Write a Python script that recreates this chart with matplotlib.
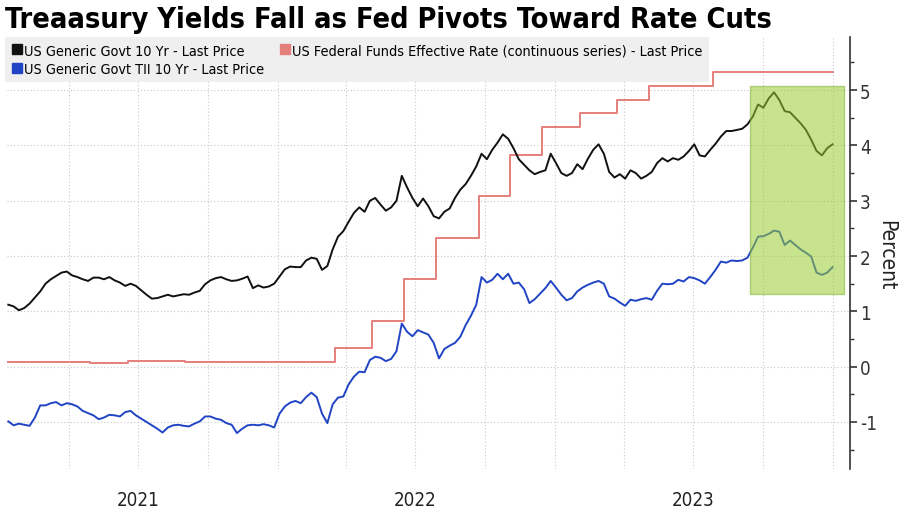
import numpy as np
import pandas as pd
import matplotlib
matplotlib.use("Agg")
import matplotlib.pyplot as plt
import matplotlib.dates as mdates
from matplotlib import font_manager
from matplotlib.font_manager import FontProperties
from matplotlib.lines import Line2D
from matplotlib.patches import Rectangle

plt.rcParams['axes.unicode_minus'] = False


def _weight(f):
    w = f.weight
    if isinstance(w, str):
        w = font_manager.weight_dict.get(w, 400)
    return w


def _is_narrow(f):
    return ('Narrow' in f.name or 'Condensed' in f.name
            or f.stretch in ('condensed', 'semi-condensed', 'extra-condensed'))


# look for narrow faces (regular-ish for body text, bold for the title)
narrow = [f for f in font_manager.fontManager.ttflist
          if _is_narrow(f) and f.style == 'normal']
body = sorted([f for f in narrow if 300 <= _weight(f) <= 500],
              key=lambda f: abs(_weight(f) - 400))
heavy = [f for f in narrow if _weight(f) >= 600]

if body:
    body_fp = FontProperties(fname=body[0].fname)
else:
    body_fp = FontProperties(family='DejaVu Sans', stretch='condensed')
if heavy:
    title_fp = FontProperties(fname=heavy[0].fname)
else:
    title_fp = FontProperties(family='DejaVu Sans', weight='bold')

# weekly observations (Mondays), Jan 11 2021 .. Jan 1 2024
dates = pd.date_range('2021-01-11', periods=156, freq='7D')

ust10 = [
    1.12, 1.09, 1.02, 1.06, 1.14, 1.25, 1.36, 1.50, 1.58, 1.64,
    1.70, 1.72, 1.65, 1.62, 1.58, 1.55, 1.61, 1.61, 1.58, 1.62,
    1.56, 1.52, 1.46, 1.50, 1.46, 1.38, 1.30, 1.23, 1.24, 1.27,
    1.30, 1.27, 1.29, 1.31, 1.30, 1.34, 1.37, 1.49, 1.56, 1.60,
    1.62, 1.58, 1.55, 1.56, 1.59, 1.63, 1.42, 1.47, 1.43, 1.45,
    1.50, 1.63, 1.76, 1.81, 1.80, 1.80, 1.92, 1.97, 1.95, 1.75,
    1.82, 2.12, 2.35, 2.45, 2.62, 2.78, 2.88, 2.80, 3.00, 3.05,
    2.93, 2.82, 2.88, 3.00, 3.45, 3.24, 3.05, 2.90, 3.04, 2.90,
    2.72, 2.68, 2.80, 2.86, 3.05, 3.20, 3.30, 3.45, 3.62, 3.85,
    3.75, 3.92, 4.05, 4.20, 4.12, 3.95, 3.75, 3.65, 3.55, 3.48,
    3.52, 3.55, 3.85, 3.68, 3.50, 3.45, 3.50, 3.66, 3.57, 3.76,
    3.92, 4.02, 3.85, 3.52, 3.42, 3.48, 3.40, 3.55, 3.50, 3.40,
    3.45, 3.52, 3.68, 3.77, 3.71, 3.77, 3.74, 3.80, 3.90, 4.02,
    3.82, 3.80, 3.92, 4.03, 4.16, 4.26, 4.26, 4.28, 4.30, 4.38,
    4.52, 4.74, 4.68, 4.85, 4.96, 4.82, 4.62, 4.60, 4.50, 4.40,
    4.28, 4.10, 3.90, 3.82, 3.95, 4.02,
]

tips10 = [
    -0.99, -1.06, -1.03, -1.05, -1.07, -0.92, -0.70, -0.70, -0.66, -0.64,
    -0.70, -0.66, -0.68, -0.72, -0.80, -0.84, -0.88, -0.95, -0.92, -0.87,
    -0.88, -0.90, -0.82, -0.80, -0.88, -0.94, -1.00, -1.06, -1.12, -1.19,
    -1.10, -1.06, -1.05, -1.07, -1.08, -1.03, -0.99, -0.90, -0.90, -0.94,
    -0.96, -1.02, -1.05, -1.20, -1.12, -1.06, -1.05, -1.06, -1.04, -1.06,
    -1.10, -0.85, -0.72, -0.65, -0.62, -0.66, -0.55, -0.47, -0.55, -0.85,
    -1.02, -0.68, -0.56, -0.54, -0.32, -0.18, -0.09, -0.10, 0.12, 0.18,
    0.16, 0.10, 0.14, 0.28, 0.78, 0.63, 0.55, 0.66, 0.62, 0.58,
    0.43, 0.15, 0.32, 0.38, 0.43, 0.54, 0.75, 0.92, 1.12, 1.62,
    1.52, 1.57, 1.68, 1.58, 1.68, 1.50, 1.52, 1.40, 1.15, 1.22,
    1.32, 1.42, 1.55, 1.43, 1.30, 1.20, 1.24, 1.36, 1.43, 1.48,
    1.52, 1.55, 1.50, 1.27, 1.23, 1.16, 1.10, 1.21, 1.19, 1.22,
    1.24, 1.21, 1.37, 1.50, 1.49, 1.50, 1.57, 1.54, 1.62, 1.60,
    1.56, 1.50, 1.62, 1.75, 1.90, 1.88, 1.92, 1.91, 1.92, 1.97,
    2.15, 2.35, 2.36, 2.40, 2.46, 2.44, 2.20, 2.28, 2.20, 2.12,
    2.06, 1.99, 1.70, 1.66, 1.70, 1.80,
]

ff_dates = pd.to_datetime([
    '2021-01-11', '2021-04-29', '2021-06-17', '2021-09-01', '2022-03-17',
    '2022-05-05', '2022-06-16', '2022-07-28', '2022-09-22', '2022-11-03',
    '2022-12-15', '2023-02-02', '2023-03-23', '2023-05-04', '2023-07-27',
    '2024-01-01',
])
ff_rate = [0.08, 0.06, 0.10, 0.08, 0.33, 0.83, 1.58, 2.33, 3.08, 3.83,
           4.33, 4.58, 4.83, 5.08, 5.33, 5.33]

labels = ['US Generic Govt 10 Yr - Last Price',
          'US Generic Govt TII 10 Yr - Last Price',
          'US Federal Funds Effective Rate (continuous series) - Last Price']
colors = ['#111111', '#2144c4', '#e57f7b']

quarters = pd.date_range('2021-04-01', '2024-01-01', freq='QS')
year_labels = {'2021-07-01': '2021', '2022-07-01': '2022', '2023-07-01': '2023'}

highlight = (pd.Timestamp('2023-09-15'), pd.Timestamp('2024-01-16'), 1.32, 5.07)

fig = plt.figure(figsize=(9, 5.1), dpi=100)
ax = fig.add_axes([7 / 900, 40 / 510, 843 / 900, 432 / 510])

ax.plot(ff_dates, ff_rate, drawstyle='steps-post', color=colors[2], lw=1.4)
ax.plot(dates, ust10, color=colors[0], lw=1.4)
ax.plot(dates, tips10, color=colors[1], lw=1.4)

x0, x1, y0, y1 = highlight
ax.add_patch(Rectangle((mdates.date2num(x0), y0),
                       mdates.date2num(x1) - mdates.date2num(x0), y1 - y0,
                       facecolor='#9acd32', alpha=0.55, edgecolor='#7fb030',
                       lw=1, zorder=5))

ax.set_xlim(pd.Timestamp('2021-01-09 07:00'), pd.Timestamp('2024-01-24'))
ax.set_ylim(-1.85, 5.96)

for s in ['left', 'top', 'bottom']:
    ax.spines[s].set_visible(False)
ax.spines['right'].set_color('#333333')
ax.spines['right'].set_linewidth(1.2)

ax.yaxis.tick_right()
ax.set_yticks(range(-1, 6))
ax.set_yticks(np.arange(-1.5, 6, 0.5), minor=True)
ax.tick_params(axis='y', which='major', length=5, width=1.2, colors='#333333', pad=2)
ax.tick_params(axis='y', which='minor', length=3, width=1, colors='#333333')

ax.set_xticks(quarters)
ax.set_xticklabels([year_labels.get(q.strftime('%Y-%m-%d'), '') for q in quarters])
ax.tick_params(axis='x', which='both', length=0, pad=15, colors='#222222')

tick_fp = body_fp.copy()
tick_fp.set_size(13.5)
for lab in ax.get_yticklabels() + ax.get_xticklabels():
    lab.set_fontproperties(tick_fp)

ax.grid(True, which='major', linestyle=(0, (1, 2)), color='#c8c8c8', lw=0.8)
ax.set_axisbelow(True)

leg_fp = body_fp.copy()
leg_fp.set_size(10.4)
handles = [Line2D([], [], marker='s', linestyle='none', markersize=7,
                  color=c) for c in colors]
leg = fig.legend(handles, labels, ncol=2, loc='upper left',
                 bbox_to_anchor=(5 / 900, 1 - 38 / 510), borderaxespad=0,
                 prop=leg_fp, frameon=True, fancybox=False,
                 handletextpad=0.1, handlelength=0.8, columnspacing=1.0,
                 labelspacing=0.3, borderpad=0.45)
leg.get_frame().set_facecolor('#efefef')
leg.get_frame().set_edgecolor('none')
leg.get_frame().set_alpha(1)

title_fp.set_size(20.7)
fig.text(5 / 900, 1 - 28 / 510, 'Treaasury Yields Fall as Fed Pivots Toward Rate Cuts',
         fontproperties=title_fp, va='baseline', ha='left')

pct_fp = body_fp.copy()
pct_fp.set_size(15)
fig.text(886 / 900, 1 - 255 / 510, 'Percent', rotation=270, fontproperties=pct_fp,
         va='center', ha='center', color='#222222')

fig.savefig('out.png', dpi=100)
